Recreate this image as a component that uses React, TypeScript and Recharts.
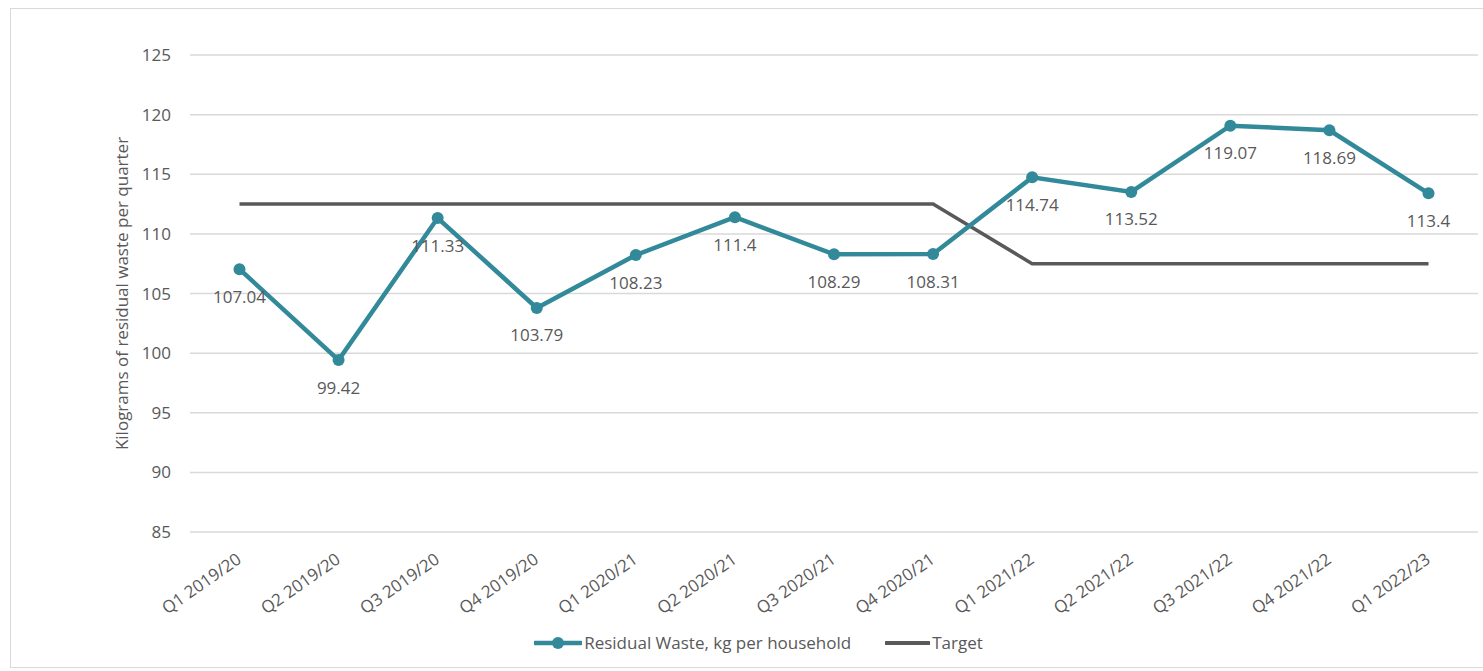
import React from "react";
import { CartesianGrid, LabelList, Line, LineChart, XAxis, YAxis } from "recharts";

const quarters = [
  "Q1 2019/20",
  "Q2 2019/20",
  "Q3 2019/20",
  "Q4 2019/20",
  "Q1 2020/21",
  "Q2 2020/21",
  "Q3 2020/21",
  "Q4 2020/21",
  "Q1 2021/22",
  "Q2 2021/22",
  "Q3 2021/22",
  "Q4 2021/22",
  "Q1 2022/23",
];
const residual = [107.04, 99.42, 111.33, 103.79, 108.23, 111.4, 108.29, 108.31, 114.74, 113.52, 119.07, 118.69, 113.4];
const target = [112.5, 112.5, 112.5, 112.5, 112.5, 112.5, 112.5, 112.5, 107.5, 107.5, 107.5, 107.5, 107.5];
const yTicks = [85, 90, 95, 100, 105, 110, 115, 120, 125];

const TEAL = "#31899A";
const GREY = "#595959";
const FONT = "'Open Sans', sans-serif";
const FS = 17;

const data = quarters.map((q, i) => ({ quarter: q, residual: residual[i], target: target[i] }));

const XTick = (props: any) => {
  const { x, y, payload } = props;
  const tx = x + 3;
  const ty = y + 30;
  return (
    <text
      x={tx}
      y={ty}
      transform={`rotate(-35, ${tx}, ${ty})`}
      textAnchor="end"
      fill={GREY}
      fontSize={FS}
      fontFamily={FONT}
    >
      {payload.value}
    </text>
  );
};

const ValueLabel = (props: any) => {
  const { x, y, value } = props;
  return (
    <text x={x} y={y + 29} textAnchor="middle" dominantBaseline="middle" fill={GREY} fontSize={FS} fontFamily={FONT}>
      {value}
    </text>
  );
};

const LegendBar = () => (
  <div
    style={{
      position: "absolute",
      top: 631,
      left: 0,
      width: 1483,
      display: "flex",
      justifyContent: "center",
      alignItems: "center",
      fontFamily: FONT,
      fontSize: FS,
      color: GREY,
      paddingLeft: 34,
      boxSizing: "border-box",
    }}
  >
    <svg width={48} height={20}>
      <line x1={1} y1={10} x2={47} y2={10} stroke={TEAL} strokeWidth={4.5} strokeLinecap="round" />
      <circle cx={24} cy={10} r={6} fill={TEAL} />
    </svg>
    <span style={{ marginLeft: 2 }}>Residual Waste, kg per household</span>
    <svg width={45} height={20} style={{ marginLeft: 34 }}>
      <line x1={1} y1={10} x2={44} y2={10} stroke={GREY} strokeWidth={4} strokeLinecap="round" />
    </svg>
    <span style={{ marginLeft: 2 }}>Target</span>
  </div>
);

export default function App() {
  return (
    <div style={{ position: "absolute", left: 0, top: 0, width: 1483, height: 671, background: "#fff", overflow: "hidden" }}>
      <div
        style={{
          position: "absolute",
          left: 10,
          top: 8,
          width: 1490,
          height: 660,
          border: "1.5px solid #d9d9d9",
          boxSizing: "border-box",
        }}
      />
      <div style={{ position: "absolute", left: 0, top: 0 }}>
        <LineChart width={1483} height={671} data={data} margin={{ top: 55, right: 5, bottom: 0, left: 0 }}>
          <CartesianGrid vertical={false} stroke="#d9d9d9" strokeWidth={1.5} />
          <XAxis
            dataKey="quarter"
            height={139}
            axisLine={false}
            tickLine={false}
            tickSize={0}
            tickMargin={0}
            interval={0}
            padding={{ left: 49.5, right: 49.5 }}
            tick={<XTick />}
          />
          <YAxis
            width={190}
            domain={[85, 125]}
            ticks={yTicks}
            axisLine={false}
            tickLine={false}
            tickSize={0}
            tickMargin={19}
            tick={{ fill: GREY, fontSize: FS, fontFamily: FONT }}
            label={{
              value: "Kilograms of residual waste per quarter",
              angle: -90,
              position: "insideLeft",
              offset: 122,
              style: { textAnchor: "middle", fill: GREY, fontSize: FS, fontFamily: FONT },
            }}
          />
          <Line
            dataKey="target"
            type="linear"
            stroke={GREY}
            strokeWidth={3.5}
            dot={false}
            activeDot={false}
            isAnimationActive={false}
          />
          <Line
            dataKey="residual"
            type="linear"
            stroke={TEAL}
            strokeWidth={4.5}
            dot={{ r: 6, fill: TEAL, stroke: TEAL, strokeWidth: 0 }}
            activeDot={false}
            isAnimationActive={false}
          >
            <LabelList dataKey="residual" content={<ValueLabel />} />
          </Line>
        </LineChart>
      </div>
      <LegendBar />
    </div>
  );
}
